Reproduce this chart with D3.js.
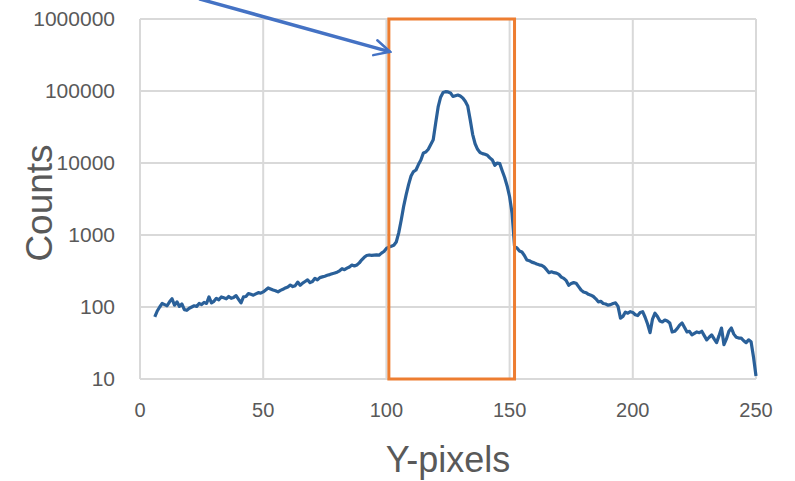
<!DOCTYPE html>
<html>
<head>
<meta charset="utf-8">
<script src="https://cdn.jsdelivr.net/npm/d3@7"></script>
<style>
  body { margin: 0; background: #fff; }
  svg text { font-family: "Liberation Sans", Arial, sans-serif; fill: #595959; }
</style>
</head>
<body>
<div id="chart"></div>
<script>
// counts per y-pixel (x = 6..250)
const startPixel = 6;
const counts = [
  73, 88, 100, 112, 108, 104, 118, 130, 106, 118, 102, 110, 92, 90, 96, 100, 104, 102, 112, 108,
  116, 112, 138, 114, 120, 132, 126, 138, 134, 130, 140, 132, 136, 144, 128, 114, 138, 140, 154, 150,
  146, 152, 158, 156, 162, 172, 184, 178, 172, 168, 162, 170, 176, 184, 190, 202, 192, 198, 222, 200,
  215, 226, 238, 218, 226, 250, 238, 256, 262, 268, 276, 282, 290, 296, 304, 318, 340, 330, 346, 360,
  382, 372, 384, 410, 452, 490, 520, 528, 522, 526, 530, 524, 560, 590, 650, 680, 700, 720, 800, 1070,
  1600, 2500, 3600, 5000, 6600, 7600, 8000, 9500, 11000, 13800, 14200, 15500, 18000, 21000, 36000, 60000, 82000, 95000, 98000, 97000,
  94000, 84000, 86000, 88000, 85000, 80000, 72000, 62000, 40000, 25000, 18500, 15500, 14000, 13500, 13200, 12800, 11800, 11000, 9300, 10000,
  9800, 7800, 6300, 4800, 3400, 2000, 700, 660, 600, 580, 520, 450, 440, 420, 410, 395, 385, 378, 360, 330,
  300, 308, 300, 296, 284, 260, 250, 232, 200, 212, 218, 214, 192, 172, 162, 158, 150, 146, 140, 130,
  118, 120, 112, 110, 106, 108, 112, 114, 102, 70, 74, 85, 82, 86, 84, 78, 76, 84, 86, 72,
  58, 44, 68, 82, 74, 64, 62, 66, 64, 60, 45, 46, 50, 56, 60, 52, 45, 46, 41, 43,
  45, 44, 46, 40, 35, 38, 41, 36, 32, 40, 51, 30, 36, 46, 51, 42, 38, 37, 37, 34,
  32, 35, 33, 20, 11
];
const xTicks = [0, 50, 100, 150, 200, 250];
const yTicks = [10, 100, 1000, 10000, 100000, 1000000];
// selected region (orange box) and arrow pointing at it
const regionX = [101, 152];
const arrowFrom = [24, 1900000];
const arrowTo = [101.5, 350000];

const width = 795, height = 481;
const margin = { top: 19, right: 39, bottom: 102, left: 140 };

const svg = d3.select("#chart").append("svg")
  .attr("width", width)
  .attr("height", height);

const x = d3.scaleLinear().domain([0, 250]).range([margin.left, width - margin.right]);
const y = d3.scaleLog().domain([10, 1000000]).range([height - margin.bottom, margin.top]);

// gridlines
svg.append("g")
  .selectAll("line.h")
  .data(yTicks)
  .join("line")
  .attr("x1", x(0)).attr("x2", x(250))
  .attr("y1", d => y(d)).attr("y2", d => y(d))
  .attr("stroke", "#d9d9d9").attr("stroke-width", 2);

svg.append("g")
  .selectAll("line.v")
  .data(xTicks)
  .join("line")
  .attr("x1", d => x(d)).attr("x2", d => x(d))
  .attr("y1", y(10)).attr("y2", y(1000000))
  .attr("stroke", "#d9d9d9").attr("stroke-width", 2);

// tick labels
svg.append("g")
  .selectAll("text")
  .data(yTicks)
  .join("text")
  .attr("x", x(0) - 25)
  .attr("y", d => y(d))
  .attr("dy", "0.35em")
  .attr("text-anchor", "end")
  .style("font-size", "21px")
  .text(d => d);

svg.append("g")
  .selectAll("text")
  .data(xTicks)
  .join("text")
  .attr("x", d => x(d))
  .attr("y", y(10) + 38)
  .attr("text-anchor", "middle")
  .style("font-size", "20px")
  .text(d => d);

// axis titles
svg.append("text")
  .attr("transform", `translate(52,${(y(10) + y(1000000)) / 2 + 4}) rotate(-90)`)
  .attr("text-anchor", "middle")
  .style("font-size", "37px")
  .text("Counts");

svg.append("text")
  .attr("x", (x(0) + x(250)) / 2)
  .attr("y", 472)
  .attr("text-anchor", "middle")
  .style("font-size", "36px")
  .text("Y-pixels");

// data line
const data = counts.map((c, i) => ({ px: startPixel + i, c }));
svg.append("path")
  .datum(data)
  .attr("fill", "none")
  .attr("stroke", "#2a6099")
  .attr("stroke-width", 3.2)
  .attr("stroke-linejoin", "round")
  .attr("d", d3.line().x(d => x(d.px)).y(d => y(d.c)));

// orange region box
svg.append("rect")
  .attr("x", x(regionX[0]))
  .attr("y", y(1000000))
  .attr("width", x(regionX[1]) - x(regionX[0]))
  .attr("height", y(10) - y(1000000))
  .attr("fill", "none")
  .attr("stroke", "#ed7d31")
  .attr("stroke-width", 3);

// arrow
svg.append("defs").append("marker")
  .attr("id", "arrowhead")
  .attr("viewBox", "0 0 10 10")
  .attr("refX", 9).attr("refY", 5)
  .attr("markerWidth", 5.5).attr("markerHeight", 5.5)
  .attr("markerUnits", "strokeWidth")
  .attr("orient", "auto")
  .append("path")
  .attr("d", "M1,1 L9,5 L1,9")
  .attr("fill", "none")
  .attr("stroke", "#4472c4")
  .attr("stroke-width", 1.3)
  .attr("stroke-linecap", "round");

svg.append("line")
  .attr("x1", x(arrowFrom[0])).attr("y1", y(arrowFrom[1]))
  .attr("x2", x(arrowTo[0])).attr("y2", y(arrowTo[1]))
  .attr("stroke", "#4472c4")
  .attr("stroke-width", 3.5)
  .attr("marker-end", "url(#arrowhead)");
</script>
</body>
</html>
